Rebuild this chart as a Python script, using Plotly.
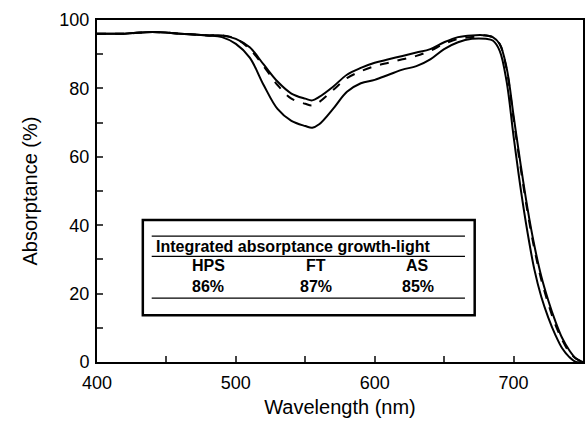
import plotly.graph_objects as go

wl = [400,420,440,460,480,490,500,510,520,530,540,550,555,560,570,580,590,600,610,620,630,640,650,660,670,680,685,690,695,700,705,710,715,720,725,730,735,740,745,750]
hps = [96,96,96.5,96,95.5,95.5,94.5,92,87,82,78.5,77,76.5,77.5,80.5,84,86,87.5,88.5,89.5,90.5,91.5,93.5,95,95.5,95.5,95,93,86,72,58,45,34,25,18,12,7,3.5,1,0]
ft  = [96,96,96.5,96,95.5,95.5,94.5,91.5,86.5,81,77,75.5,75,76,79.5,83,85,86.5,87.5,88.5,89.5,91,93,94.5,95,95.5,95,93,85.5,71,57,44,33,24,17,11,6.5,3,1,0]
as_ = [96,96,96.5,96,95.5,95,93,89,81,74,70.5,69,68.5,69.5,74,79,81.5,82.5,84,85.5,86.5,88.5,91.5,93.5,94.5,94.5,94,91,82,66,51,38,27,19,13,8,4,1.5,0,0]

fig = go.Figure()
for y, dash in [(hps, "solid"), (ft, "dash"), (as_, "solid")]:
    fig.add_trace(go.Scatter(x=wl, y=y, mode="lines", line=dict(color="black", width=2, dash=dash, shape="spline"), showlegend=False))

ax = dict(showline=True, linecolor="black", linewidth=2, mirror=True, ticks="inside", ticklen=6, tickwidth=2,
          showgrid=False, zeroline=False, automargin=False, tickfont=dict(size=18, color="black"), title_font=dict(size=20, color="black"))
fig.update_xaxes(range=[400, 750], tickvals=[400,450,500,550,600,650,700,750], ticktext=["400","","500","","600","","700",""], title_text="Wavelength (nm)", title_standoff=8, ticklabelstandoff=3, **ax)
fig.update_yaxes(range=[0, 100], tickvals=list(range(0,101,10)), ticktext=[str(v) if v % 20 == 0 else "" for v in range(0,101,10)], title_text="Absorptance (%)", title_standoff=16, ticklabelstandoff=2, **ax)

shapes = [dict(type="rect", x0=433, x1=672, y0=13.7, y1=41.5, line=dict(color="black", width=2.5), fillcolor="white")]
for yy in [36.8, 30.9, 18.7]:
    shapes.append(dict(type="line", x0=439.4, x1=665, y0=yy, y1=yy, line=dict(color="black", width=1.2)))
fig.update_layout(shapes=shapes)
annos = [dict(x=441, y=33.9, text="<b>Integrated absorptance growth-light</b>", xanchor="left", showarrow=False)]
for xx, h, v in [(480, "HPS", "86%"), (558, "FT", "87%"), (631, "AS", "85%")]:
    annos.append(dict(x=xx, y=28.1, text=f"<b>{h}</b>", showarrow=False))
    annos.append(dict(x=xx, y=22.2, text=f"<b>{v}</b>", showarrow=False))
for a in annos:
    a["font"] = dict(size=16, color="black", family="Liberation Sans, Arial")
fig.update_layout(annotations=annos, width=585, height=434, plot_bgcolor="white", paper_bgcolor="white",
                  font=dict(family="Liberation Sans, Arial", color="black"),
                  margin=dict(l=97, r=2, t=20, b=72))
fig.write_html("out.html", config={"responsive": False, "displayModeBar": False}, default_width="585px", default_height="434px",
               post_script="document.body.style.margin='0';")
